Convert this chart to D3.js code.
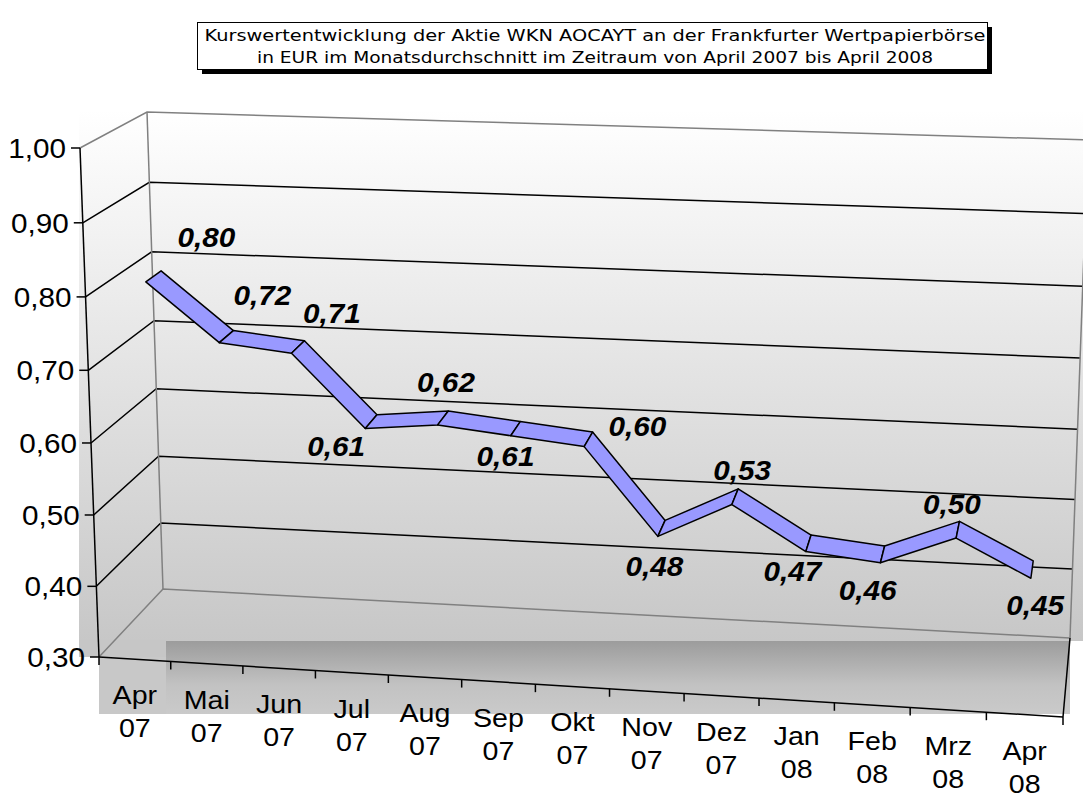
<!doctype html>
<html>
<head>
<meta charset="utf-8">
<script src="https://cdnjs.cloudflare.com/ajax/libs/d3/7.8.5/d3.min.js"></script>
<style>
  body { margin: 0; background: #fff; }
  svg { display: block; }
  text { font-family: "Liberation Sans", Arial, sans-serif; fill: #000; }
</style>
</head>
<body>
<svg id="chart" width="1083" height="796"></svg>
<script>
// --- data ---
var months = ["Apr", "Mai", "Jun", "Jul", "Aug", "Sep", "Okt", "Nov", "Dez", "Jan", "Feb", "Mrz", "Apr"];
var years  = ["07", "07", "07", "07", "07", "07", "07", "07", "07", "08", "08", "08", "08"];
var kurs   = [0.80, 0.72, 0.71, 0.61, 0.62, 0.61, 0.60, 0.48, 0.53, 0.47, 0.46, 0.50, 0.45];
var yTicks = [0.30, 0.40, 0.50, 0.60, 0.70, 0.80, 0.90, 1.00];
var titleLines = [
  "Kurswertentwicklung der Aktie WKN AOCAYT an der Frankfurter Wertpapierbörse",
  "in EUR im Monatsdurchschnitt im Zeitraum von April 2007 bis April 2008"
];

// label placement relative to the point (style only)
var labelDx = [53, 36, 34, -35, 3, -10, 49, -7, 7, -16, -15, -6, 3];
var labelDy = [-39, -41, -33, 25, -35, 28, -13, 38, -26, 28, 36, -25, 36];

var svg = d3.select("#chart");
var fmt = function(v) { return d3.format(".2f")(v).replace(".", ","); };

// --- 3d box: front plane and back wall as projected quads ---
function quadMap(p0, p1, p2, p3) {
  var dx1 = p1[0] - p2[0], dx2 = p3[0] - p2[0], dx3 = p0[0] - p1[0] + p2[0] - p3[0];
  var dy1 = p1[1] - p2[1], dy2 = p3[1] - p2[1], dy3 = p0[1] - p1[1] + p2[1] - p3[1];
  var den = dx1 * dy2 - dx2 * dy1;
  var g = (dx3 * dy2 - dx2 * dy3) / den, h = (dx1 * dy3 - dx3 * dy1) / den;
  var a = p1[0] - p0[0] + g * p1[0], b = p3[0] - p0[0] + h * p3[0], c = p0[0];
  var d = p1[1] - p0[1] + g * p1[1], e = p3[1] - p0[1] + h * p3[1], f = p0[1];
  return function(u, v) {
    var w = g * u + h * v + 1;
    return [(a * u + b * v + c) / w, (d * u + e * v + f) / w];
  };
}
var front = quadMap([99, 657], [1063, 717], [1077, 191], [80, 148]);
var back  = quadMap([163, 589], [1070, 638], [1088, 140], [147, 112]);

var x = d3.scaleLinear().domain([0, months.length]).range([0, 1]);
var y = d3.scaleLinear().domain([0.30, 1.00]).range([0, 1]);

function project(k, val, z) {
  var f = front(x(k), y(val)), b = back(x(k), y(val));
  return [f[0] + (b[0] - f[0]) * z, f[1] + (b[1] - f[1]) * z];
}
var line = d3.line();

// --- backgrounds ---
var defs = svg.append("defs");
var wg = defs.append("linearGradient").attr("id", "wallGrad")
  .attr("gradientUnits", "userSpaceOnUse").attr("x1", 0).attr("y1", 110).attr("x2", 0).attr("y2", 650);
wg.append("stop").attr("offset", 0).attr("stop-color", "#ffffff");
wg.append("stop").attr("offset", 1).attr("stop-color", "#c6c6c6");
var fg = defs.append("linearGradient").attr("id", "floorGrad")
  .attr("x1", 0).attr("y1", 0).attr("x2", 0).attr("y2", 1);
fg.append("stop").attr("offset", 0).attr("stop-color", "#9c9c9c");
fg.append("stop").attr("offset", 0.6).attr("stop-color", "#c2c2c2");
fg.append("stop").attr("offset", 1).attr("stop-color", "#cacaca");

svg.append("rect").attr("x", 79).attr("y", 108).attr("width", 1004).attr("height", 533).attr("fill", "url(#wallGrad)");
svg.append("rect").attr("x", 79).attr("y", 640).attr("width", 88).attr("height", 17).attr("fill", "#c6c6c6");
svg.append("rect").attr("x", 99).attr("y", 657).attr("width", 971).attr("height", 57).attr("fill", "#c8c8c8");
svg.append("rect").attr("x", 166).attr("y", 641).attr("width", 904).attr("height", 73).attr("fill", "url(#floorGrad)");

// --- gridlines on side wall and back wall ---
var grid = svg.append("g").attr("fill", "none").attr("stroke-width", 1.5);
yTicks.forEach(function(t) {
  var edge = (t === 0.30 || t === 1.00);
  grid.append("path")
    .attr("d", line([front(0, y(t)), back(0, y(t)), back(1, y(t))]))
    .attr("stroke", edge ? "#808080" : "#000");
});
grid.append("path").attr("d", line([back(0, 0), back(0, 1)])).attr("stroke", "#808080");
grid.append("path").attr("d", line([back(1, 0), back(1, 1)])).attr("stroke", "#808080");

// --- series ribbon ---
var z0 = 0.37, z1 = 0.61;
var ribbon = svg.append("g").attr("fill", "#9999ff").attr("stroke", "#000").attr("stroke-width", 1.5)
  .attr("stroke-linejoin", "round");
d3.range(kurs.length - 1).forEach(function(i) {
  ribbon.append("path").attr("d", line([
    project(i + 0.5, kurs[i], z0), project(i + 1.5, kurs[i + 1], z0),
    project(i + 1.5, kurs[i + 1], z1), project(i + 0.5, kurs[i], z1)
  ]) + "Z");
});

// --- data labels ---
svg.append("g").selectAll("text").data(kurs).enter().append("text")
  .attr("transform", function(d, i) {
    var p = project(i + 0.5, d, (z0 + z1) / 2);
    return "translate(" + (p[0] + labelDx[i]) + "," + (p[1] + labelDy[i]) + ") scale(1.1,1)";
  })
  .attr("text-anchor", "middle").attr("dy", "0.35em")
  .style("font-size", "27px").style("font-weight", "bold").style("font-style", "italic")
  .text(fmt);

// --- axes ---
var axes = svg.append("g").attr("stroke", "#000").attr("stroke-width", 1.5).attr("fill", "none");
axes.append("path").attr("d", line([front(0, 0), front(0, 1)]));
axes.append("path").attr("d", line([front(0, 0), front(1, 0)]));
axes.append("path").attr("d", line([front(1, 0), back(1, 0)]));

yTicks.forEach(function(t) {
  var p = front(0, y(t));
  axes.append("path").attr("d", line([[p[0] - 9, p[1]], p]));
  svg.append("text")
    .attr("transform", "translate(" + (p[0] - 14) + "," + p[1] + ") scale(1.1,1)")
    .attr("text-anchor", "end").attr("dy", "0.36em").style("font-size", "27px")
    .text(fmt(t));
});

d3.range(months.length + 1).forEach(function(k) {
  var p = front(x(k), 0);
  axes.append("path").attr("d", line([p, [p[0], p[1] + 8]]));
});

months.forEach(function(m, i) {
  var p = front(x(i + 0.5), 0);
  var t = svg.append("text")
    .attr("transform", "translate(" + p[0] + "," + p[1] + ") scale(1.1,1)")
    .attr("text-anchor", "middle").style("font-size", "26px");
  t.append("tspan").attr("x", 0).attr("y", 45).text(m);
  t.append("tspan").attr("x", 0).attr("y", 78).text(years[i]);
});

// --- title box ---
svg.append("rect").attr("x", 202).attr("y", 27).attr("width", 790).attr("height", 47).attr("fill", "#000");
svg.append("rect").attr("x", 197.5).attr("y", 22.5).attr("width", 790).attr("height", 47)
  .attr("fill", "#fff").attr("stroke", "#000").attr("stroke-width", 1);
var titleLen = [781, 676];
titleLines.forEach(function(s, i) {
  svg.append("text").attr("x", 595).attr("y", 41 + i * 22)
    .attr("text-anchor", "middle")
    .attr("textLength", titleLen[i]).attr("lengthAdjust", "spacingAndGlyphs")
    .style("font-family", "'DejaVu Sans', Verdana, sans-serif").style("font-size", "16px")
    .text(s);
});
</script>
</body>
</html>
